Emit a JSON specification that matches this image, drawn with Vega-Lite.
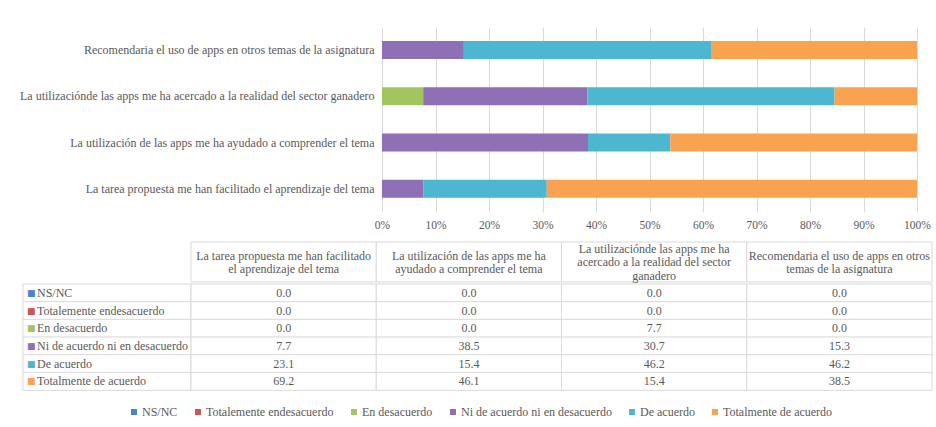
{
  "$schema": "https://vega.github.io/schema/vega-lite/v6.json",
  "background": "white",
  "padding": {"left": 19, "top": 27, "right": 4, "bottom": 0},
  "bounds": "flush",
  "spacing": 30,
  "resolve": {"scale": {"color": "shared"}},
  "config": {
    "font": "Liberation Serif",
    "view": {"stroke": null},
    "text": {"font": "Liberation Serif", "fontSize": 12, "color": "#595959"},
    "axis": {"labelFont": "Liberation Serif", "labelFontSize": 12, "labelColor": "#595959"},
    "legend": {"labelFont": "Liberation Serif", "labelFontSize": 12, "labelColor": "#595959"}
  },
  "datasets": {
    "t": [
      {"q": "La tarea propuesta me han facilitado el aprendizaje del tema", "r": "NS/NC", "v": 0.0},
      {"q": "La tarea propuesta me han facilitado el aprendizaje del tema", "r": "Totalemente endesacuerdo", "v": 0.0},
      {"q": "La tarea propuesta me han facilitado el aprendizaje del tema", "r": "En desacuerdo", "v": 0.0},
      {"q": "La tarea propuesta me han facilitado el aprendizaje del tema", "r": "Ni de acuerdo ni en desacuerdo", "v": 7.7},
      {"q": "La tarea propuesta me han facilitado el aprendizaje del tema", "r": "De acuerdo", "v": 23.1},
      {"q": "La tarea propuesta me han facilitado el aprendizaje del tema", "r": "Totalmente de acuerdo", "v": 69.2},
      {"q": "La utilización de las apps me ha ayudado a comprender el tema", "r": "NS/NC", "v": 0.0},
      {"q": "La utilización de las apps me ha ayudado a comprender el tema", "r": "Totalemente endesacuerdo", "v": 0.0},
      {"q": "La utilización de las apps me ha ayudado a comprender el tema", "r": "En desacuerdo", "v": 0.0},
      {"q": "La utilización de las apps me ha ayudado a comprender el tema", "r": "Ni de acuerdo ni en desacuerdo", "v": 38.5},
      {"q": "La utilización de las apps me ha ayudado a comprender el tema", "r": "De acuerdo", "v": 15.4},
      {"q": "La utilización de las apps me ha ayudado a comprender el tema", "r": "Totalmente de acuerdo", "v": 46.1},
      {"q": "La utilizaciónde las apps me ha acercado a la realidad del sector ganadero", "r": "NS/NC", "v": 0.0},
      {"q": "La utilizaciónde las apps me ha acercado a la realidad del sector ganadero", "r": "Totalemente endesacuerdo", "v": 0.0},
      {"q": "La utilizaciónde las apps me ha acercado a la realidad del sector ganadero", "r": "En desacuerdo", "v": 7.7},
      {"q": "La utilizaciónde las apps me ha acercado a la realidad del sector ganadero", "r": "Ni de acuerdo ni en desacuerdo", "v": 30.7},
      {"q": "La utilizaciónde las apps me ha acercado a la realidad del sector ganadero", "r": "De acuerdo", "v": 46.2},
      {"q": "La utilizaciónde las apps me ha acercado a la realidad del sector ganadero", "r": "Totalmente de acuerdo", "v": 15.4},
      {"q": "Recomendaria el uso de apps en otros temas de la asignatura", "r": "NS/NC", "v": 0.0},
      {"q": "Recomendaria el uso de apps en otros temas de la asignatura", "r": "Totalemente endesacuerdo", "v": 0.0},
      {"q": "Recomendaria el uso de apps en otros temas de la asignatura", "r": "En desacuerdo", "v": 0.0},
      {"q": "Recomendaria el uso de apps en otros temas de la asignatura", "r": "Ni de acuerdo ni en desacuerdo", "v": 15.3},
      {"q": "Recomendaria el uso de apps en otros temas de la asignatura", "r": "De acuerdo", "v": 46.2},
      {"q": "Recomendaria el uso de apps en otros temas de la asignatura", "r": "Totalmente de acuerdo", "v": 38.5}
    ],
    "h": [
      {"q": "La tarea propuesta me han facilitado el aprendizaje del tema", "lines": ["La tarea propuesta me han facilitado", "el aprendizaje del tema"]},
      {"q": "La utilización de las apps me ha ayudado a comprender el tema", "lines": ["La utilización de las apps me ha", "ayudado a comprender el tema"]},
      {"q": "La utilizaciónde las apps me ha acercado a la realidad del sector ganadero", "lines": ["La utilizaciónde las apps me ha", "acercado a la realidad del sector", "ganadero"]},
      {"q": "Recomendaria el uso de apps en otros temas de la asignatura", "lines": ["Recomendaria el uso de apps en otros", "temas de la asignatura"]}
    ]
  },
  "vconcat": [
    {
      "width": 909,
      "height": 185,
      "data": {"name": "t"},
      "transform": [{"calculate": "indexof(['NS/NC', 'Totalemente endesacuerdo', 'En desacuerdo', 'Ni de acuerdo ni en desacuerdo', 'De acuerdo', 'Totalmente de acuerdo'], datum.r)", "as": "stackOrder"}],
      "mark": {"type": "bar"},
      "encoding": {
        "y": {
          "field": "q", "type": "nominal",
          "sort": ["Recomendaria el uso de apps en otros temas de la asignatura", "La utilizaciónde las apps me ha acercado a la realidad del sector ganadero", "La utilización de las apps me ha ayudado a comprender el tema", "La tarea propuesta me han facilitado el aprendizaje del tema"],
          "scale": {"paddingInner": 0.61, "paddingOuter": 0.305},
          "axis": {"title": null, "offset": -359, "labelPadding": 8, "ticks": false, "domain": false, "labelLimit": 400}
        },
        "x": {
          "field": "v", "type": "quantitative", "stack": "zero",
          "scale": {"domain": [-67.1, 102.8], "nice": false, "zero": false},
          "axis": {"title": null, "values": [0, 10, 20, 30, 40, 50, 60, 70, 80, 90, 100], "labelExpr": "datum.value + '%'", "grid": true, "gridColor": "#d9d9d9", "ticks": false, "domain": false, "labelPadding": 7, "labelFontSize": 11.5}
        },
        "order": {"field": "stackOrder", "type": "quantitative", "sort": "ascending"},
        "color": {
          "field": "r", "type": "nominal",
          "sort": ["NS/NC", "Totalemente endesacuerdo", "En desacuerdo", "Ni de acuerdo ni en desacuerdo", "De acuerdo", "Totalmente de acuerdo"],
          "scale": {"domain": ["NS/NC", "Totalemente endesacuerdo", "En desacuerdo", "Ni de acuerdo ni en desacuerdo", "De acuerdo", "Totalmente de acuerdo"], "range": ["#4b85c9", "#d05451", "#a3c560", "#8f6fb5", "#4db6d0", "#f9a24f"]},
          "legend": {"title": null, "orient": "none", "legendX": 105, "legendY": 379, "direction": "horizontal", "symbolType": "square", "symbolSize": 36, "columnPadding": 14, "labelOffset": 2}
        }
      }
    },
    {
      "spacing": 0,
      "vconcat": [
        {
          "spacing": 0,
          "bounds": "flush",
          "hconcat": [
            {"width": 168, "height": 40, "data": {"values": []}, "mark": "point"},
            {
              "width": 741,
              "height": 40,
              "data": {"name": "h"},
              "transform": [{"calculate": "length(datum.lines)", "as": "n"}],
              "encoding": {
                "x": {"field": "q", "type": "nominal", "sort": ["La tarea propuesta me han facilitado el aprendizaje del tema", "La utilización de las apps me ha ayudado a comprender el tema", "La utilizaciónde las apps me ha acercado a la realidad del sector ganadero", "Recomendaria el uso de apps en otros temas de la asignatura"], "scale": {"type": "band", "paddingInner": 0, "paddingOuter": 0}, "axis": null}
              },
              "layer": [
                {"mark": {"type": "rect", "fill": "white", "stroke": "#d9d9d9", "strokeWidth": 1}},
                {
                  "mark": {"type": "text", "lineHeight": 13.5, "baseline": "middle"},
                  "encoding": {
                    "text": {"field": "lines"},
                    "yOffset": {"field": "n", "type": "quantitative", "scale": {"domain": [2, 3], "range": [-6.5, -13.5]}}
                  }
                }
              ]
            }
          ]
        },
        {
          "spacing": 0,
          "bounds": "flush",
          "hconcat": [
            {
              "width": 168,
              "height": 106,
              "data": {"name": "t"},
              "transform": [{"filter": "datum.q === 'La tarea propuesta me han facilitado el aprendizaje del tema'"}],
              "encoding": {
                "y": {"field": "r", "type": "nominal", "sort": ["NS/NC", "Totalemente endesacuerdo", "En desacuerdo", "Ni de acuerdo ni en desacuerdo", "De acuerdo", "Totalmente de acuerdo"], "scale": {"type": "band", "paddingInner": 0, "paddingOuter": 0}, "axis": null}
              },
              "layer": [
                {"mark": {"type": "rect", "fill": "white", "stroke": "#d9d9d9", "strokeWidth": 1}},
                {
                  "mark": {"type": "text", "align": "left", "dx": 4, "fontSize": 9, "font": "DejaVu Sans"},
                  "encoding": {
                    "x": {"datum": "c", "type": "nominal", "bandPosition": 0, "scale": {"type": "band", "paddingInner": 0, "paddingOuter": 0}, "axis": null},
                    "text": {"value": "■"},
                    "color": {
                      "field": "r", "type": "nominal",
                      "sort": ["NS/NC", "Totalemente endesacuerdo", "En desacuerdo", "Ni de acuerdo ni en desacuerdo", "De acuerdo", "Totalmente de acuerdo"],
                      "scale": {"domain": ["NS/NC", "Totalemente endesacuerdo", "En desacuerdo", "Ni de acuerdo ni en desacuerdo", "De acuerdo", "Totalmente de acuerdo"], "range": ["#4b85c9", "#d05451", "#a3c560", "#8f6fb5", "#4db6d0", "#f9a24f"]},
                      "legend": {"title": null, "orient": "none", "legendX": 105, "legendY": 379, "direction": "horizontal", "symbolType": "square", "symbolSize": 36, "columnPadding": 14, "labelOffset": 2}
                    }
                  }
                },
                {
                  "mark": {"type": "text", "align": "left", "dx": 14},
                  "encoding": {
                    "x": {"datum": "c", "type": "nominal", "bandPosition": 0, "scale": {"type": "band", "paddingInner": 0, "paddingOuter": 0}, "axis": null},
                    "text": {"field": "r"}
                  }
                }
              ]
            },
            {
              "width": 741,
              "height": 106,
              "data": {"name": "t"},
              "encoding": {
                "x": {"field": "q", "type": "nominal", "sort": ["La tarea propuesta me han facilitado el aprendizaje del tema", "La utilización de las apps me ha ayudado a comprender el tema", "La utilizaciónde las apps me ha acercado a la realidad del sector ganadero", "Recomendaria el uso de apps en otros temas de la asignatura"], "scale": {"type": "band", "paddingInner": 0, "paddingOuter": 0}, "axis": null},
                "y": {"field": "r", "type": "nominal", "sort": ["NS/NC", "Totalemente endesacuerdo", "En desacuerdo", "Ni de acuerdo ni en desacuerdo", "De acuerdo", "Totalmente de acuerdo"], "scale": {"type": "band", "paddingInner": 0, "paddingOuter": 0}, "axis": null}
              },
              "layer": [
                {"mark": {"type": "rect", "fill": "white", "stroke": "#d9d9d9", "strokeWidth": 1}},
                {"mark": {"type": "text"}, "encoding": {"text": {"field": "v", "type": "quantitative", "format": ".1f"}}}
              ]
            }
          ]
        }
      ]
    }
  ]
}
